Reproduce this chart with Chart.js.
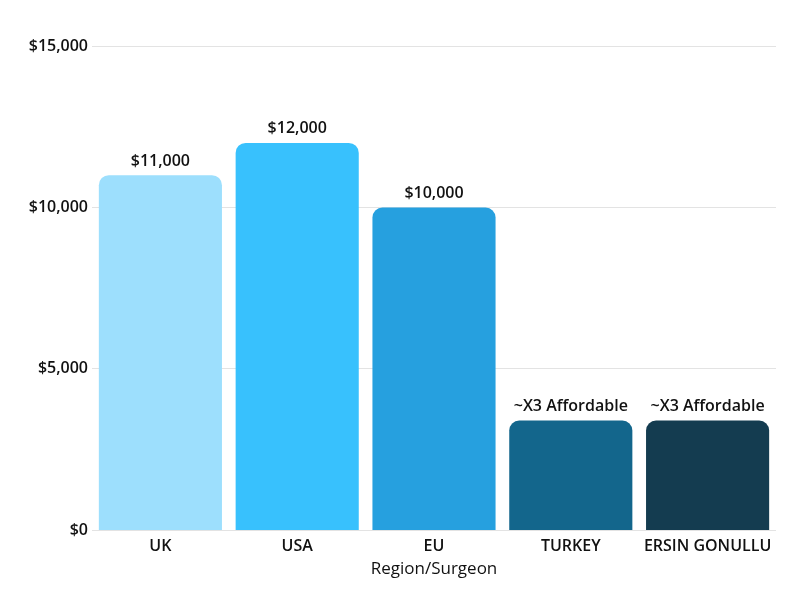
<!DOCTYPE html>
<html>
<head>
<meta charset="utf-8">
<script src="https://cdn.jsdelivr.net/npm/chart.js@4"></script>
<style>
  html, body { margin: 0; padding: 0; background: #fff; }
  #wrap { width: 800px; height: 600px; }
</style>
</head>
<body>
<div id="wrap"><canvas id="cost-chart"></canvas></div>
<script>
const regions = ["UK", "USA", "EU", "TURKEY", "ERSIN GONULLU"];
const costs = [11000, 12000, 10000, 3400, 3400];
const barLabels = ["$11,000", "$12,000", "$10,000", "~X3 Affordable", "~X3 Affordable"];
const barColors = ["#9ddffd", "#38c1fd", "#26a0df", "#13668c", "#143c50"];
const yTicks = [0, 5000, 10000, 15000];

const FONT = "'Open Sans', 'Noto Sans', sans-serif";

// draws the text above each bar
const valueLabels = {
  id: "valueLabels",
  afterDatasetsDraw(chart) {
    const ctx = chart.ctx;
    const meta = chart.getDatasetMeta(0);
    ctx.save();
    ctx.font = "600 16px " + FONT;
    ctx.fillStyle = "#111";
    ctx.textAlign = "center";
    ctx.textBaseline = "bottom";
    meta.data.forEach((bar, i) => {
      ctx.fillText(barLabels[i], bar.x, bar.y - 6);
    });
    ctx.restore();
  }
};

new Chart(document.getElementById("cost-chart"), {
  type: "bar",
  data: {
    labels: regions,
    datasets: [{
      data: costs,
      backgroundColor: barColors,
      borderRadius: { topLeft: 10, topRight: 10, bottomLeft: 0, bottomRight: 0 },
      borderSkipped: false,
      barPercentage: 0.9,
      categoryPercentage: 1.0
    }]
  },
  options: {
    responsive: true,
    maintainAspectRatio: false,
    animation: false,
    layout: { padding: { top: 46, right: 24, bottom: 21, left: 0 } },
    plugins: {
      legend: { display: false },
      tooltip: { enabled: false }
    },
    scales: {
      x: {
        grid: { display: false },
        border: { display: false },
        ticks: { color: "#111", font: { family: FONT, size: 16, weight: "600" }, padding: -2 },
        title: {
          display: true,
          text: "Region/Surgeon",
          color: "#111",
          font: { family: FONT, size: 17, weight: "500" },
          padding: { top: 5, bottom: 0 }
        }
      },
      y: {
        min: 0,
        max: 15000,
        afterFit: (scale) => { scale.width = 92; },
        afterBuildTicks: (scale) => { scale.ticks = yTicks.map((v) => ({ value: v })); },
        grid: { color: "#e3e3e3", drawTicks: false },
        border: { display: false },
        ticks: {
          color: "#111",
          padding: 4,
          font: { family: FONT, size: 16, weight: "600" },
          callback: (v) => "$" + v.toLocaleString("en-US")
        }
      }
    }
  },
  plugins: [valueLabels]
});
</script>
</body>
</html>
